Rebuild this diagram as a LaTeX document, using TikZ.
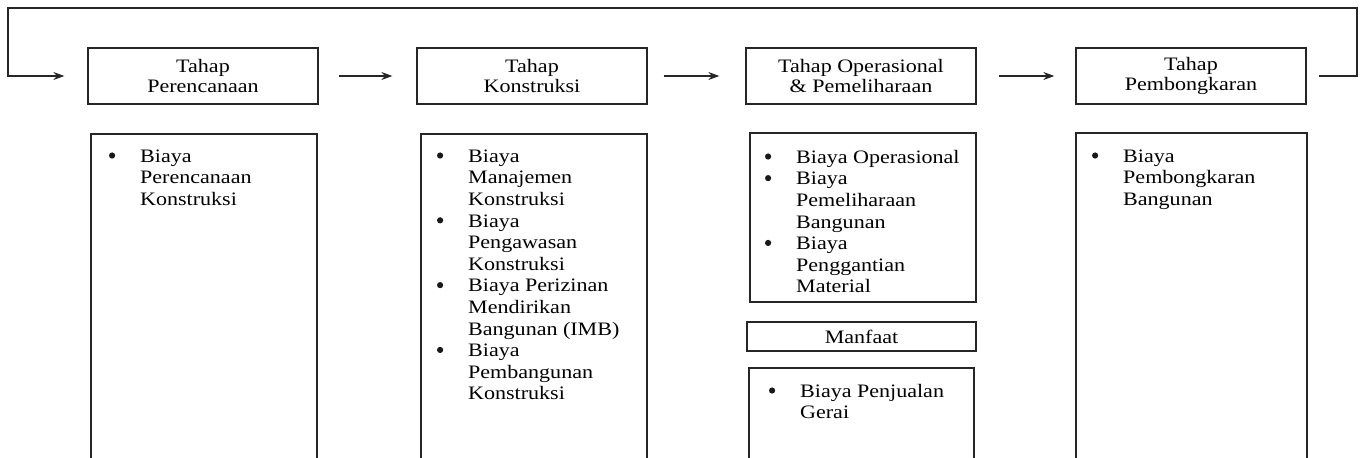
\documentclass[tikz,border=0pt]{standalone}
\usepackage{fontspec}
\setmainfont{Liberation Serif}[FakeStretch=1.16]
\usetikzlibrary{arrows.meta}
\newcommand\mybul{\llap{\tikz[baseline=-6.8pt]\fill[black!90] (0,0) circle (3.1pt);\hspace{25pt}}}
\begin{document}
\begin{tikzpicture}[x=1pt,y=-1pt,
  line/.style={draw=black!85, line width=1.3pt},
  hbox/.style={line, minimum width=230pt, minimum height=56pt, inner sep=0pt, align=center, font=\fontsize{19}{20.5}\selectfont},
  bbox/.style={line, inner sep=0pt},
  btext/.style={anchor=north west, inner sep=0pt, align=left, font=\fontsize{19}{21.6}\selectfont},
  arr/.style={line, -{Stealth[length=11pt,width=8pt]}}]
\useasboundingbox (0,0) rectangle (1361,458);
% header boxes
\node[hbox] (h1) at (203,76) {Tahap\\Perencanaan};
\node[hbox] (h2) at (532,76) {Tahap\\Konstruksi};
\node[hbox] (h3) at (861,76) {Tahap Operasional\\\& Pemeliharaan};
\node[hbox] (h4) at (1191,76) {Tahap\\Pembongkaran};
% arrows
\draw[arr, shorten <=20pt, shorten >=24pt] (h1.east) -- (h2.west);
\draw[arr, shorten <=16pt, shorten >=26pt] (h2.east) -- (h3.west);
\draw[arr, shorten <=22pt, shorten >=21pt] (h3.east) -- (h4.west);
\coordinate (rt) at (1357,8);
\coordinate (lt) at (8,8);
\draw[arr, shorten >=23pt] ([xshift=12pt]h4.east) -- (rt |- h4.east) -- (rt) -- (lt) -- (lt |- h1.west) -- (h1.west);
% body boxes
\node[bbox, minimum width=226pt, minimum height=336pt] (b1) at (204,302) {};
\node[bbox, minimum width=226pt, minimum height=336pt] (b2) at (534,302) {};
\node[bbox, minimum width=226pt, minimum height=169pt] (b3) at (863,217.5) {};
\node[bbox, minimum width=229pt, minimum height=29pt, font=\fontsize{19}{21.6}\selectfont] (m3) at (861.5,336.5) {Manfaat};
\node[bbox, minimum width=225pt, minimum height=102pt] (c3) at (861.5,419) {};
\node[bbox, minimum width=231pt, minimum height=337pt] (b4) at (1191.5,301.5) {};
% body texts
\node[btext] (t1) at (140,147) {\strut\mybul Biaya\\Perencanaan\\Konstruksi};
\node[btext] (t2) at (468,147) {\strut\mybul Biaya\\Manajemen\\Konstruksi\\\mybul Biaya\\Pengawasan\\Konstruksi\\\mybul Biaya Perizinan\\Mendirikan\\Bangunan (IMB)\\\mybul Biaya\\Pembangunan\\Konstruksi};
\node[btext] (t3) at (796,148) {\strut\mybul Biaya Operasional\\\mybul Biaya\\Pemeliharaan\\Bangunan\\\mybul Biaya\\Penggantian\\Material};
\node[btext] (u3) at (800,382) {\strut\mybul Biaya Penjualan\\Gerai};
\node[btext] (t4) at (1123,147) {\strut\mybul Biaya\\Pembongkaran\\Bangunan};
\end{tikzpicture}
\end{document}
